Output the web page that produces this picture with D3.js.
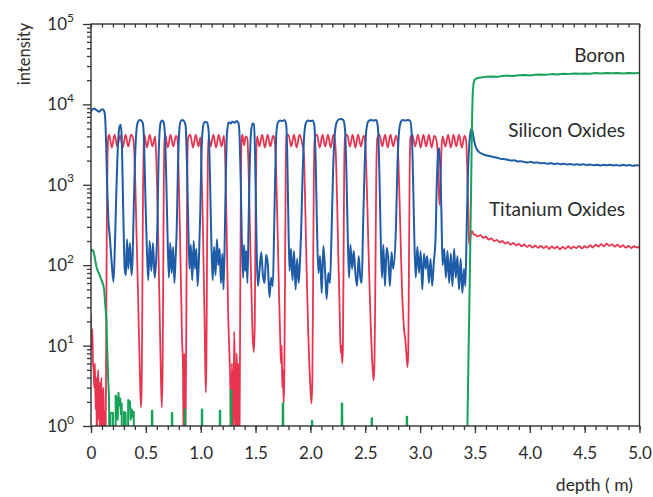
<!DOCTYPE html>
<html>
<head>
<meta charset="utf-8">
<script src="https://cdn.jsdelivr.net/npm/d3@7"></script>
<style>
    body {margin: 0; background: #fff;}
    text {font-family: Lato, "Open Sans", sans-serif; fill: #2b2b2b;}
</style>
</head>
<body>
<div id="chart"></div>
<script>
// depth (um) , intensity
const titaniumOxides = [
    [0.000, 25], [0.006, 9], [0.012, 16], [0.018, 6], [0.024, 5], [0.030, 3], [0.036, 6], [0.042, 1.6],
    [0.048, 4], [0.054, 0.5], [0.060, 3], [0.066, 5], [0.072, 1.2], [0.078, 3.5], [0.084, 0.5], [0.090, 2.5],
    [0.096, 4], [0.102, 0.5], [0.108, 2], [0.114, 3], [0.120, 0.5], [0.126, 1.5], [0.132, 0.5], [0.138, 8],
    [0.144, 300], [0.150, 2000], [0.157, 3800],
    [0.165, 4200], [0.190, 2900], [0.215, 4200], [0.240, 3000], [0.265, 4100], [0.290, 2900], [0.315, 4200],
    [0.340, 3000], [0.365, 4200], [0.385, 3700],
    [0.395, 2500], [0.405, 900], [0.415, 250], [0.425, 70], [0.435, 18], [0.445, 5], [0.455, 1.7], [0.462, 3],
    [0.468, 40], [0.474, 800], [0.480, 3000], [0.487, 4200],
    [0.510, 2900], [0.535, 4200], [0.560, 3000], [0.585, 4000],
    [0.595, 2200], [0.605, 700], [0.615, 150], [0.625, 30], [0.635, 6], [0.645, 1.7], [0.652, 4], [0.658, 60],
    [0.664, 1200], [0.670, 3500], [0.677, 4200],
    [0.700, 2900], [0.725, 4200], [0.750, 3000], [0.775, 4100], [0.790, 3500],
    [0.800, 1200], [0.810, 300], [0.820, 60], [0.830, 12], [0.838, 6], [0.845, 0.5], [0.850, 8], [0.855, 3],
    [0.860, 0.5], [0.866, 5], [0.872, 100], [0.878, 1500], [0.885, 3800],
    [0.905, 4200], [0.930, 2900], [0.955, 4200], [0.980, 3000], [0.998, 3900],
    [1.008, 1500], [1.018, 400], [1.028, 80], [1.038, 12], [1.046, 2.6], [1.052, 6], [1.058, 150], [1.065, 2000],
    [1.072, 4000],
    [1.090, 3000], [1.115, 4200], [1.140, 2900], [1.165, 4200], [1.190, 3000], [1.212, 4100],
    [1.222, 2500], [1.232, 600], [1.242, 100], [1.252, 20], [1.262, 8], [1.270, 3], [1.277, 0.5], [1.284, 6],
    [1.290, 3], [1.297, 0.5], [1.305, 15], [1.312, 5], [1.320, 0.5], [1.327, 8], [1.334, 4], [1.340, 0.5],
    [1.347, 6], [1.353, 0.5], [1.360, 30], [1.366, 800], [1.372, 3500], [1.380, 4200],
    [1.395, 3100], [1.410, 4000], [1.425, 3800],
    [1.435, 1800], [1.445, 500], [1.455, 120], [1.465, 35], [1.475, 12], [1.485, 8.3], [1.493, 20], [1.500, 400],
    [1.507, 2500], [1.515, 4000],
    [1.535, 3000], [1.560, 4200], [1.585, 2900], [1.610, 4200], [1.635, 3000], [1.660, 4100], [1.675, 3500],
    [1.685, 2000], [1.695, 600], [1.705, 150], [1.715, 40], [1.725, 12], [1.732, 6], [1.738, 10], [1.744, 3],
    [1.750, 5], [1.756, 1.9], [1.762, 4], [1.768, 50], [1.775, 1500], [1.782, 4000],
    [1.800, 4200], [1.825, 3000], [1.850, 4200], [1.875, 2900], [1.900, 4200], [1.925, 3300],
    [1.940, 2500], [1.950, 800], [1.960, 200], [1.970, 50], [1.980, 15], [1.990, 6], [2.000, 3], [2.010, 1.9],
    [2.018, 4], [2.025, 80], [2.032, 1500], [2.040, 3800],
    [2.060, 4200], [2.085, 2900], [2.110, 4200], [2.135, 3000], [2.160, 4200], [2.185, 2900], [2.210, 4200],
    [2.225, 3500],
    [2.235, 1800], [2.245, 500], [2.255, 120], [2.265, 35], [2.272, 12], [2.278, 8], [2.284, 10], [2.290, 6],
    [2.296, 9], [2.302, 100], [2.308, 1500], [2.315, 3800],
    [2.335, 4200], [2.360, 3000], [2.385, 4200], [2.410, 2900], [2.435, 4200], [2.460, 3000], [2.485, 4100],
    [2.500, 3400],
    [2.510, 1500], [2.520, 500], [2.530, 150], [2.540, 50], [2.550, 18], [2.560, 8], [2.568, 5], [2.576, 3.7],
    [2.584, 6], [2.592, 60], [2.600, 1200], [2.610, 3800],
    [2.630, 4200], [2.655, 3000], [2.680, 4200], [2.705, 2900], [2.730, 4200], [2.755, 3000], [2.780, 4100],
    [2.795, 3400],
    [2.805, 1500], [2.815, 500], [2.825, 150], [2.835, 50], [2.845, 25], [2.855, 15], [2.865, 12], [2.875, 8],
    [2.885, 5.4], [2.892, 8], [2.898, 80], [2.905, 1500], [2.912, 3900],
    [2.930, 4200], [2.955, 3000], [2.980, 4200], [3.005, 2900], [3.030, 4200], [3.055, 3000], [3.080, 4200],
    [3.105, 2900], [3.130, 4100], [3.150, 3500],
    [3.160, 2500], [3.170, 900], [3.178, 560], [3.186, 900], [3.195, 2800], [3.205, 4000],
    [3.230, 3000], [3.255, 4200], [3.280, 2900], [3.305, 4200], [3.330, 3000], [3.355, 4200], [3.380, 2900],
    [3.405, 4100], [3.420, 3500],
    [3.430, 1500], [3.440, 400], [3.447, 180], [3.455, 200], [3.465, 255], [3.475, 265], [3.490, 240], [3.500, 240],
    [3.525, 228], [3.550, 236], [3.575, 218], [3.600, 226], [3.625, 208], [3.650, 215], [3.675, 200], [3.700, 207],
    [3.725, 192], [3.750, 200], [3.775, 186], [3.800, 194], [3.825, 180], [3.850, 189], [3.875, 176], [3.900, 184],
    [3.925, 172], [3.950, 181], [3.975, 169], [4.000, 178], [4.025, 166], [4.050, 175], [4.075, 164], [4.100, 174],
    [4.125, 163], [4.150, 172], [4.175, 160], [4.200, 171], [4.225, 162], [4.250, 170], [4.275, 158], [4.300, 169],
    [4.325, 160], [4.350, 172], [4.375, 161], [4.400, 170], [4.425, 163], [4.450, 174], [4.475, 162], [4.500, 172],
    [4.525, 165], [4.550, 177], [4.575, 166], [4.600, 180], [4.625, 170], [4.650, 183], [4.675, 172], [4.700, 185],
    [4.725, 174], [4.750, 182], [4.775, 170], [4.800, 180], [4.825, 168], [4.850, 177], [4.875, 165], [4.900, 174],
    [4.925, 163], [4.950, 172], [4.975, 166], [5.000, 170]
];

const siliconOxides = [
    [0.000, 8200], [0.015, 8700], [0.030, 8900], [0.045, 8600], [0.060, 8300], [0.075, 8100], [0.090, 8500],
    [0.105, 8700], [0.118, 8400], [0.128, 7200], [0.138, 3200], [0.148, 900], [0.158, 380], [0.172, 220],
    [0.188, 110], [0.205, 62], [0.218, 180], [0.232, 900], [0.246, 3200], [0.260, 5300], [0.270, 5600],
    [0.279, 4200], [0.288, 1200], [0.297, 300], [0.307, 90], [0.318, 75], [0.328, 210], [0.340, 90], [0.355, 190],
    [0.370, 75], [0.380, 130], [0.388, 400], [0.400, 1800], [0.413, 4500], [0.427, 6000], [0.443, 6400],
    [0.460, 6300], [0.473, 5800], [0.485, 3000], [0.497, 600], [0.510, 150], [0.522, 65],
    [0.535, 200], [0.550, 85], [0.565, 190], [0.580, 70], [0.593, 110], [0.605, 300], [0.615, 1800], [0.625, 4500],
    [0.636, 6000], [0.650, 6300], [0.662, 6000], [0.674, 4200], [0.686, 1200], [0.698, 230], [0.710, 70],
    [0.722, 190], [0.735, 80], [0.748, 170], [0.760, 60], [0.772, 130], [0.782, 300], [0.792, 1500], [0.803, 4300],
    [0.816, 6100], [0.832, 6400], [0.848, 6200], [0.862, 5500], [0.874, 2000], [0.886, 350], [0.898, 90],
    [0.910, 180], [0.923, 65], [0.936, 200], [0.948, 90], [0.960, 160], [0.972, 55], [0.984, 120], [0.995, 400],
    [1.005, 1800], [1.016, 4500], [1.030, 5900], [1.045, 6100], [1.060, 5900], [1.073, 4500], [1.085, 1200],
    [1.097, 200], [1.109, 65],
    [1.122, 170], [1.135, 75], [1.148, 210], [1.160, 100], [1.172, 160], [1.185, 60], [1.197, 140], [1.208, 50],
    [1.220, 250], [1.230, 1500], [1.240, 4500], [1.255, 6000], [1.272, 5800], [1.290, 6100], [1.310, 5900],
    [1.328, 6200], [1.345, 5800], [1.356, 3500], [1.366, 900], [1.376, 180], [1.386, 70],
    [1.396, 180], [1.406, 85], [1.416, 150], [1.426, 60], [1.436, 300], [1.446, 1500], [1.458, 4300], [1.472, 5800],
    [1.484, 5700], [1.494, 3000], [1.503, 600], [1.512, 120], [1.522, 55],
    [1.537, 90], [1.552, 145], [1.567, 75], [1.582, 60], [1.597, 135], [1.612, 100], [1.627, 40], [1.642, 70],
    [1.657, 55], [1.670, 300], [1.680, 1500], [1.690, 4500], [1.705, 6000], [1.725, 6300], [1.745, 6200],
    [1.765, 6400], [1.780, 5500], [1.790, 2000], [1.800, 300], [1.810, 85],
    [1.823, 160], [1.837, 65], [1.851, 150], [1.865, 50], [1.879, 120], [1.893, 60], [1.905, 110], [1.915, 250],
    [1.928, 1200], [1.942, 3800], [1.958, 5800], [1.978, 6300], [2.000, 6200], [2.020, 6300], [2.036, 5500],
    [2.048, 2000], [2.060, 300], [2.073, 80],
    [2.088, 130], [2.103, 45], [2.118, 175], [2.133, 90], [2.148, 38], [2.163, 80], [2.178, 60], [2.193, 250],
    [2.207, 1500], [2.222, 4200], [2.240, 6000], [2.260, 6500], [2.280, 6600], [2.300, 6400], [2.315, 5000],
    [2.328, 1500], [2.340, 250], [2.352, 70],
    [2.365, 180], [2.380, 90], [2.395, 150], [2.410, 80], [2.425, 55], [2.440, 130], [2.455, 70], [2.468, 60],
    [2.480, 300], [2.495, 1800], [2.510, 4800], [2.530, 6200], [2.555, 6400], [2.575, 6300], [2.600, 6400],
    [2.615, 5200], [2.628, 1600], [2.640, 250], [2.652, 70],
    [2.665, 180], [2.680, 55], [2.695, 165], [2.710, 120], [2.725, 55], [2.740, 145], [2.755, 90], [2.780, 300],
    [2.792, 1500], [2.805, 4000], [2.820, 5800], [2.840, 6400], [2.865, 6300], [2.890, 6400], [2.910, 6200],
    [2.925, 4000], [2.937, 1000], [2.948, 200], [2.960, 70],
    [2.975, 170], [2.990, 80], [3.005, 150], [3.020, 50], [3.035, 140], [3.050, 90], [3.065, 130], [3.080, 60],
    [3.095, 120], [3.110, 55], [3.125, 110], [3.140, 200], [3.152, 1000], [3.165, 2600], [3.175, 2850],
    [3.185, 1500], [3.195, 400], [3.205, 100],
    [3.220, 160], [3.235, 70], [3.250, 150], [3.265, 60], [3.280, 140], [3.295, 55], [3.310, 160], [3.325, 70],
    [3.340, 130], [3.355, 50], [3.370, 120], [3.385, 45], [3.400, 90], [3.413, 55], [3.425, 300], [3.435, 1200],
    [3.447, 3000], [3.460, 4500], [3.472, 5000], [3.482, 4300], [3.495, 3400], [3.510, 2900], [3.530, 2600],
    [3.560, 2450], [3.590, 2350], [3.620, 2300], [3.650, 2250], [3.680, 2200], [3.710, 2150], [3.740, 2100],
    [3.770, 2080], [3.800, 2050], [3.830, 2000], [3.860, 2020], [3.890, 1950], [3.920, 1970], [3.950, 1920],
    [3.980, 1900], [4.010, 1930], [4.040, 1880], [4.070, 1900], [4.100, 1850], [4.130, 1870], [4.160, 1830],
    [4.190, 1860], [4.220, 1820], [4.250, 1840], [4.280, 1800], [4.310, 1830], [4.340, 1790], [4.370, 1810],
    [4.400, 1780], [4.430, 1800], [4.460, 1770], [4.490, 1800], [4.520, 1760], [4.550, 1790], [4.580, 1750],
    [4.610, 1780], [4.640, 1740], [4.670, 1770], [4.700, 1750], [4.730, 1780], [4.760, 1740], [4.790, 1760],
    [4.820, 1730], [4.850, 1770], [4.880, 1740], [4.910, 1760], [4.940, 1720], [4.970, 1750], [5.000, 1740]
];

// values below 1 are off the bottom of the log axis
const boron = [
    [0.000, 160], [0.010, 150], [0.020, 152], [0.030, 135], [0.040, 112], [0.050, 95], [0.060, 86], [0.070, 80],
    [0.080, 74], [0.090, 68], [0.100, 63], [0.110, 58], [0.120, 50], [0.130, 32], [0.140, 22], [0.148, 9],
    [0.156, 4], [0.164, 2.3], [0.170, 0.3],
    [0.176, 0.3], [0.177, 1.45], [0.200, 1.45], [0.201, 0.3], [0.224, 0.3], [0.225, 2.4], [0.238, 2.1],
    [0.243, 1.2], [0.250, 2.6], [0.258, 1.8], [0.266, 2.2], [0.273, 1.4], [0.280, 1.9], [0.281, 0.3],
    [0.300, 0.3], [0.301, 1.5], [0.316, 1.45], [0.317, 0.3], [0.338, 0.3], [0.339, 2.1], [0.356, 2.0],
    [0.362, 1.2], [0.372, 1.6], [0.378, 1.3], [0.390, 1.5], [0.391, 0.3],
    [0.553, 0.3], [0.555, 1.55], [0.559, 1.55], [0.561, 0.3],
    [0.735, 0.3], [0.737, 1.45], [0.741, 1.45], [0.743, 0.3],
    [0.853, 0.3], [0.855, 1.6], [0.859, 1.6], [0.861, 0.3],
    [1.008, 0.3], [1.010, 1.6], [1.014, 1.6], [1.016, 0.3],
    [1.172, 0.3], [1.174, 1.55], [1.178, 1.55], [1.180, 0.3],
    [1.272, 0.3], [1.274, 2.8], [1.279, 2.8], [1.281, 0.3],
    [1.746, 0.3], [1.748, 1.9], [1.752, 1.9], [1.754, 0.3],
    [2.011, 0.3], [2.013, 1.15], [2.017, 1.15], [2.019, 0.3],
    [2.284, 0.3], [2.286, 1.9], [2.290, 1.9], [2.292, 0.3],
    [2.556, 0.3], [2.558, 1.25], [2.562, 1.25], [2.564, 0.3],
    [2.876, 0.3], [2.878, 1.3], [2.882, 1.3], [2.884, 0.3],
    [3.420, 0.3], [3.428, 0.5], [3.432, 1.2], [3.436, 2.5], [3.440, 6], [3.445, 15], [3.450, 40], [3.455, 110],
    [3.460, 300], [3.465, 900], [3.470, 3000], [3.475, 8000], [3.480, 14000], [3.488, 18500], [3.500, 20500],
    [3.520, 21200], [3.550, 21600], [3.600, 22000], [3.650, 22300], [3.700, 22000], [3.750, 22600], [3.800, 22800],
    [3.850, 22500], [3.900, 23000], [3.950, 23200], [4.000, 22900], [4.050, 23400], [4.100, 23600], [4.150, 23300],
    [4.200, 23800], [4.250, 23600], [4.300, 24000], [4.350, 23800], [4.400, 24200], [4.450, 24000], [4.500, 24300],
    [4.550, 24100], [4.600, 24500], [4.650, 24300], [4.700, 24600], [4.750, 24400], [4.800, 24500], [4.850, 24300],
    [4.900, 24600], [4.950, 24400], [5.000, 24500]
];

const xMajorTicks = [0, 0.5, 1.0, 1.5, 2.0, 2.5, 3.0, 3.5, 4.0, 4.5, 5.0];
const xMinorTicks = d3.range(0, 51).map(i => i / 10);
const yExponents = [0, 1, 2, 3, 4, 5];
const yMinorTicks = d3.range(0, 5).flatMap(e => [2, 3, 4, 5, 6, 7, 8, 9].map(m => m * Math.pow(10, e)));

const seriesNames = ['Boron', 'Silicon Oxides', 'Titanium Oxides'];

const width = 653, height = 497;
const plot = {left: 91, right: 639.5, top: 24, bottom: 426};

const x = d3.scaleLinear().domain([0, 5]).range([plot.left, plot.right]);
const y = d3.scaleLog().domain([1, 1e5]).range([plot.bottom, plot.top]);

const svg = d3.select('#chart').append('svg')
    .attr('width', width)
    .attr('height', height);

svg.append('defs').append('clipPath')
    .attr('id', 'plot-clip')
    .append('rect')
    .attr('x', plot.left)
    .attr('y', plot.top)
    .attr('width', plot.right - plot.left)
    .attr('height', plot.bottom - plot.top);

const series = [
    {data: titaniumOxides, color: '#e8344e', width: 1.8, curve: d3.curveMonotoneX},
    {data: siliconOxides, color: '#1f5ca8', width: 2, curve: d3.curveMonotoneX},
    {data: boron, color: '#16a257', width: 2, curve: d3.curveLinear}
];

const lines = svg.append('g').attr('clip-path', 'url(#plot-clip)');

series.forEach(s => {
    const line = d3.line()
        .x(d => x(d[0]))
        .y(d => y(d[1]))
        .curve(s.curve);
    lines.append('path')
        .datum(s.data)
        .attr('fill', 'none')
        .attr('stroke', s.color)
        .attr('stroke-width', s.width)
        .attr('stroke-linejoin', 'round')
        .attr('d', line);
});

// frame
svg.append('rect')
    .attr('x', plot.left)
    .attr('y', plot.top)
    .attr('width', plot.right - plot.left)
    .attr('height', plot.bottom - plot.top)
    .attr('fill', 'none')
    .attr('stroke', '#333')
    .attr('stroke-width', 1.4);

const tickStyle = g => {
    g.select('.domain').remove();
    g.selectAll('line').attr('stroke', '#333').attr('stroke-width', 1.3);
};

// bottom ticks
svg.append('g')
    .attr('transform', `translate(0,${plot.bottom})`)
    .call(d3.axisBottom(x).tickValues(xMinorTicks).tickSize(4).tickFormat(''))
    .call(tickStyle);

svg.append('g')
    .attr('transform', `translate(0,${plot.bottom})`)
    .call(d3.axisBottom(x).tickValues(xMajorTicks).tickSize(7).tickPadding(14)
        .tickFormat(d => d === 0 ? '0' : d.toFixed(1)))
    .call(tickStyle)
    .call(g => g.selectAll('text')
        .attr('font-family', 'Lato, "Open Sans", sans-serif')
        .attr('font-size', 17)
        .attr('fill', '#2b2b2b'));

// top ticks, pointing inward
svg.append('g')
    .attr('transform', `translate(0,${plot.top})`)
    .call(d3.axisTop(x).tickValues(xMinorTicks).tickSize(-3.5).tickFormat(''))
    .call(tickStyle);

// left ticks
svg.append('g')
    .attr('transform', `translate(${plot.left},0)`)
    .call(d3.axisLeft(y).tickValues(yMinorTicks).tickSize(4).tickFormat(''))
    .call(tickStyle);

svg.append('g')
    .attr('transform', `translate(${plot.left},0)`)
    .call(d3.axisLeft(y).tickValues(yExponents.map(e => Math.pow(10, e))).tickSize(8).tickFormat(''))
    .call(tickStyle);

const yLabels = svg.append('g')
    .selectAll('text')
    .data(yExponents)
    .join('text')
    .attr('x', 74)
    .attr('y', e => y(Math.pow(10, e)) + 6)
    .attr('text-anchor', 'end')
    .attr('font-size', 17);

yLabels.append('tspan').text('10');
yLabels.append('tspan')
    .attr('dy', -8.5)
    .attr('font-size', 12)
    .text(e => e);

// axis titles
svg.append('text')
    .attr('transform', 'translate(30,54) rotate(-90)')
    .attr('text-anchor', 'middle')
    .attr('font-size', 16.5)
    .text('intensity');

svg.append('text')
    .attr('x', 633)
    .attr('y', 491)
    .attr('text-anchor', 'end')
    .attr('font-size', 17.5)
    .text('depth ( m)');

// series labels
const labelY = [62, 137, 216];
svg.append('g')
    .selectAll('text')
    .data(seriesNames)
    .join('text')
    .attr('x', 625)
    .attr('y', (d, i) => labelY[i])
    .attr('text-anchor', 'end')
    .attr('font-size', 19)
    .text(d => d);
</script>
</body>
</html>
